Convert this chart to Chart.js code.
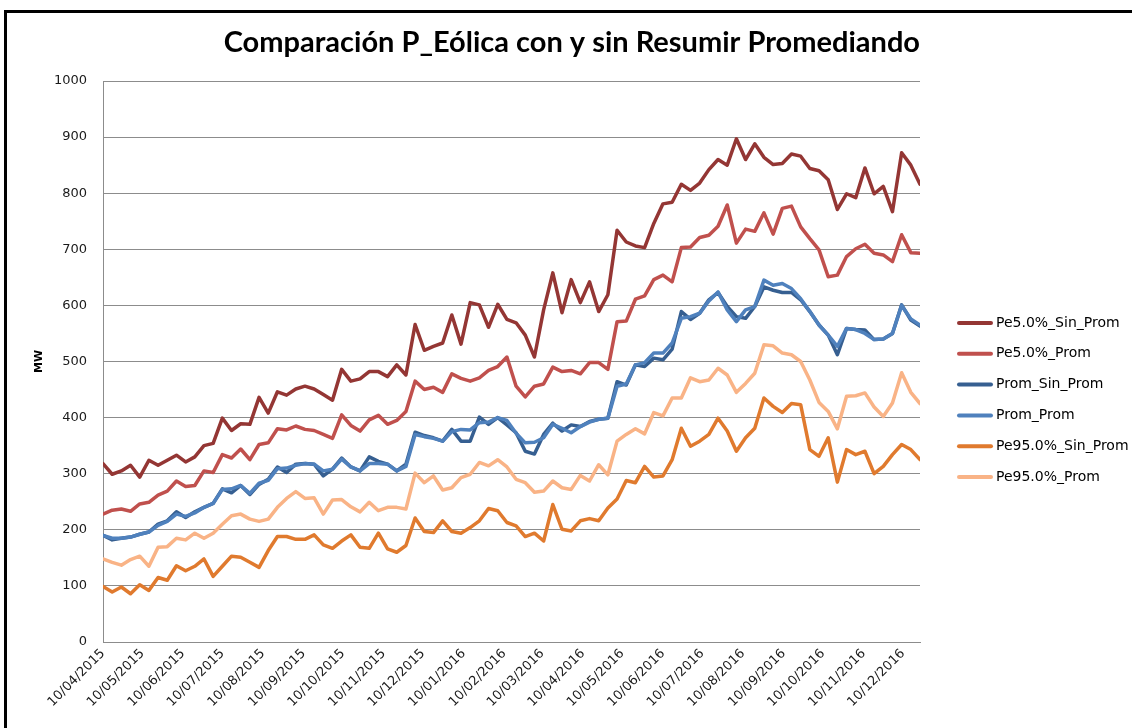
<!DOCTYPE html>
<html>
<head>
<meta charset="utf-8">
<script src="https://cdn.jsdelivr.net/npm/chart.js@4.4.0/dist/chart.umd.min.js"></script>
<style>
html,body{margin:0;padding:0;background:#fff;overflow:hidden;}
#wrap{position:relative;width:1132px;height:728px;overflow:hidden;}
#frame{position:absolute;left:4px;top:10px;width:1200px;height:800px;border:3px solid #000;box-sizing:border-box;pointer-events:none;}
canvas{position:absolute;left:0;top:0;}
</style>
</head>
<body>
<div id="wrap"><canvas id="c" width="1132" height="728"></canvas><div id="frame"></div></div>
<script>
// ---- data (weekly samples starting 10/04/2015) ----
const startDate = '10/04/2015';
const tickLabels = ['10/04/2015','10/05/2015','10/06/2015','10/07/2015','10/08/2015','10/09/2015','10/10/2015','10/11/2015','10/12/2015','10/01/2016','10/02/2016','10/03/2016','10/04/2016','10/05/2016','10/06/2016','10/07/2016','10/08/2016','10/09/2016','10/10/2016','10/11/2016','10/12/2016'];
const seriesNames = ['Pe5.0%_Sin_Prom','Pe5.0%_Prom','Prom_Sin_Prom','Prom_Prom','Pe95.0%_Sin_Prom','Pe95.0%_Prom'];

const pe5SinProm = [318,299,305,315,294,324,315,324,333,321,330,350,354,399,377,389,388,436,408,446,440,451,456,451,441,431,486,465,469,482,482,473,494,476,566,520,527,533,583,531,605,601,561,602,575,569,547,508,592,658,587,646,605,642,589,619,734,713,706,703,746,781,784,816,805,818,842,860,850,897,860,888,864,851,853,870,866,844,840,824,771,799,792,845,799,812,767,872,850,816];
const pe5Prom = [228,235,237,233,246,249,262,269,287,277,279,305,302,334,328,344,325,352,355,380,378,385,379,377,370,363,405,386,376,396,404,388,395,411,465,450,454,445,478,470,465,471,484,491,508,456,437,456,460,490,482,484,478,498,498,486,571,572,611,617,646,654,642,703,704,721,725,741,779,711,736,732,765,727,773,777,740,719,699,651,654,687,701,709,693,690,678,726,694,693];
const promSinProm = [190,182,185,187,192,196,210,216,232,222,232,240,247,273,266,279,263,281,290,312,302,317,318,317,296,308,328,312,305,330,322,317,305,317,374,368,364,358,379,358,358,401,388,400,387,373,340,335,370,390,376,387,384,393,397,399,464,458,494,491,506,503,522,589,575,586,610,623,598,580,577,598,633,627,623,623,610,589,565,547,512,559,557,556,539,540,550,601,574,563];
const promProm = [190,185,185,187,192,196,208,215,228,224,230,240,247,272,273,279,265,283,288,309,310,315,318,317,305,308,326,312,305,318,318,317,305,313,370,366,363,358,375,379,378,391,392,400,395,372,355,356,364,388,381,373,384,392,397,399,456,460,494,498,515,515,533,577,580,586,608,624,592,571,592,598,645,636,639,630,612,589,565,547,527,559,557,550,539,540,550,600,576,565];
const pe95SinProm = [99,89,98,86,102,92,115,110,136,127,135,148,117,135,153,151,142,133,163,188,188,183,183,191,173,167,180,191,169,167,194,166,160,172,221,197,195,216,197,194,204,216,238,234,213,207,188,194,180,245,201,198,216,220,216,239,255,288,284,313,294,296,325,381,349,358,370,399,376,340,364,381,435,420,409,425,423,343,331,364,285,343,334,340,300,313,334,352,343,325];
const pe95Prom = [148,142,137,147,153,135,169,170,185,182,194,185,194,210,225,228,219,215,219,240,256,268,256,257,228,253,254,241,232,249,234,240,240,237,301,284,296,271,275,293,299,320,314,325,312,290,284,267,269,287,275,272,297,287,316,298,358,370,380,371,409,403,435,435,471,464,467,488,476,445,461,479,530,528,515,512,500,467,427,411,380,438,439,444,419,402,426,480,445,425];

const colors = ['#943634','#C0504D','#365F91','#4F81BD','#E07A2E','#F9B386'];

// ---- helpers ----
function parseDMY(s){const [d,m,y]=s.split('/').map(Number);return Date.UTC(y,m-1,d);}
const DAY = 86400000;
const t0 = parseDMY(startDate);
const tickDays = tickLabels.map(l => Math.round((parseDMY(l)-t0)/DAY));
const toPoints = arr => arr.map((v,i)=>({x:i*7, y:v}));
const allSeries = [pe5SinProm,pe5Prom,promSinProm,promProm,pe95SinProm,pe95Prom];

const datasets = allSeries.map((arr,i)=>({
  label: seriesNames[i],
  data: toPoints(arr),
  borderColor: colors[i],
  backgroundColor: colors[i],
  borderWidth: 3.5,
  pointRadius: 0,
  tension: 0,
  fill: false,
  borderJoinStyle: 'round',
  borderCapStyle: 'round',
  order: allSeries.length - 1 - i
}));

const sideLegend = {
  id: 'sideLegend',
  afterDraw(chart){
    const ctx = chart.ctx;
    ctx.save();
    chart.data.datasets.forEach((ds,i)=>{
      const y = 323 + i*30.8;
      ctx.strokeStyle = ds.borderColor;
      ctx.lineWidth = 4;
      ctx.lineCap = 'round';
      ctx.beginPath(); ctx.moveTo(959,y); ctx.lineTo(991,y); ctx.stroke();
      ctx.fillStyle = '#000';
      ctx.font = '14px "DejaVu Sans"';
      ctx.textBaseline = 'middle';
      ctx.textAlign = 'left';
      ctx.fillText(ds.label, 996, y);
    });
    ctx.restore();
  }
};

new Chart(document.getElementById('c'), {
  type: 'line',
  data: { datasets },
  plugins: [sideLegend],
  options: {
    responsive: false,
    animation: false,
    devicePixelRatio: 1,
    layout: { padding: { left: 30, right: 212, top: 0, bottom: 0 } },
    plugins: {
      legend: { display: false },
      tooltip: { enabled: false },
      title: {
        display: true,
        align: 'end',
        text: 'Comparación P_Eólica con y sin Resumir Promediando',
        color: '#000',
        font: { family: 'Lato', weight: 'bold', size: 29, lineHeight: 1.2 },
        padding: { top: 25.6, bottom: 20.6 }
      }
    },
    scales: {
      x: {
        type: 'linear',
        min: 0,
        max: 623,
        afterBuildTicks(s){ s.ticks = tickDays.map(v=>({value:v})); },
        afterFit(s){ s.height = 86; },
        ticks: {
          autoSkip: false,
          minRotation: 45,
          maxRotation: 45,
          padding: 4,
          color: '#1a1a1a',
          font: { family: 'DejaVu Sans', size: 13 },
          callback: (v,i) => tickLabels[i]
        },
        grid: { display: true, color: 'rgba(0,0,0,0)', drawTicks: false },
        border: { display: true, color: '#8c8c8c', width: 1 }
      },
      y: {
        min: 0,
        max: 1000,
        afterFit(s){ s.width = 73; },
        ticks: {
          stepSize: 100,
          padding: 16,
          color: '#1a1a1a',
          font: { family: 'DejaVu Sans', size: 13 },
          callback: v => String(v)
        },
        grid: { color: '#8c8c8c', lineWidth: 1, drawTicks: false },
        border: { display: true, color: '#8c8c8c', width: 1 },
        title: {
          display: true,
          text: 'MW',
          color: '#000',
          font: { family: 'DejaVu Sans', weight: 'bold', size: 11 },
          padding: { top: 3, bottom: 0 }
        }
      }
    }
  }
});
</script>
</body>
</html>
